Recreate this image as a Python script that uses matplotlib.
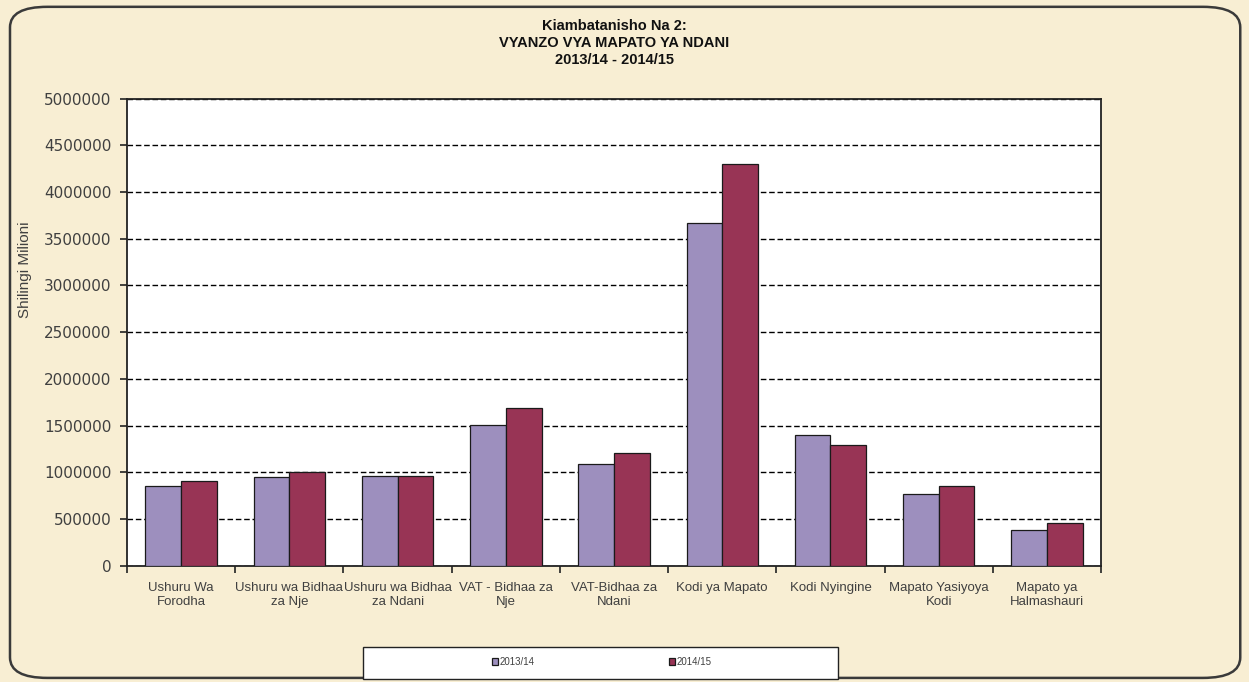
import numpy as np
import matplotlib.pyplot as plt
from matplotlib.patches import FancyBboxPatch, Rectangle

# Data
categories = ["Ushuru Wa\nForodha", "Ushuru wa Bidhaa\nza Nje", "Ushuru wa Bidhaa\nza Ndani",
              "VAT - Bidhaa za\nNje", "VAT-Bidhaa za\nNdani", "Kodi ya Mapato",
              "Kodi Nyingine", "Mapato Yasiyoya\nKodi", "Mapato ya\nHalmashauri"]
series_names = ["2013/14", "2014/15"]
values_1314 = [852000, 945000, 959000, 1505000, 1088000, 3663000, 1398000, 763000, 382000]
values_1415 = [909000, 1000000, 959000, 1690000, 1202000, 4300000, 1291000, 856000, 453000]
yticks = [0, 500000, 1000000, 1500000, 2000000, 2500000, 3000000, 3500000, 4000000, 4500000, 5000000]

plt.rcParams['font.family'] = ['Liberation Sans Narrow', 'Liberation Sans', 'DejaVu Sans']

bg = '#f8eed3'
fig = plt.figure(figsize=(12.49, 6.82), dpi=100, facecolor=bg)

# rounded frame around the chart
frame = FancyBboxPatch((0.008, 0.006), 0.985, 0.984, boxstyle="round,pad=0,rounding_size=0.03",
                       transform=fig.transFigure, facecolor=bg, edgecolor='#3a3a3a', linewidth=1.8,
                       zorder=-5)
fig.patches.append(frame)

ax = fig.add_axes([0.1017, 0.1705, 0.7798, 0.685])
ax.set_facecolor('white')

x = np.arange(len(categories))
w = 0.33
ax.bar(x - w / 2, values_1314, w, color='#9d8fbe', edgecolor='#1a1a1a', linewidth=0.9,
       label=series_names[0], zorder=3)
ax.bar(x + w / 2, values_1415, w, color='#983455', edgecolor='#1a1a1a', linewidth=0.9,
       label=series_names[1], zorder=3)

ax.set_xlim(-0.5, len(categories) - 0.5)
ax.set_ylim(0, 5000000)
ax.set_yticks(yticks)
ax.set_yticklabels([str(v) for v in yticks], fontsize=11, color='#404040', family='DejaVu Sans')
ax.yaxis.grid(True, linestyle=(0, (4, 2)), color='black', linewidth=1.0, zorder=1)

# ticks between categories, labels centred on categories
ax.set_xticks(np.arange(len(categories) + 1) - 0.5)
ax.set_xticklabels([])
ax.set_xticks(x, minor=True)
ax.set_xticklabels(categories, minor=True, fontsize=9.5, color='#404040')
ax.tick_params(axis='x', which='minor', length=0, pad=12)
ax.tick_params(axis='x', which='major', length=5, width=1.2, direction='out', color='#222222')
ax.tick_params(axis='y', length=5, width=1.2, direction='out', color='#222222', pad=6)

for s in ax.spines.values():
    s.set_color('#222222')
    s.set_linewidth(1.3)

fig.text(0.02, 0.605, "Shilingi Milioni", rotation=90, ha='center', va='center',
         fontsize=11, color='#404040')

fig.text(0.492, 0.972, "Kiambatanisho Na 2:\nVYANZO VYA MAPATO YA NDANI\n2013/14 - 2014/15",
         ha='center', va='top', fontsize=10.5, fontweight='bold', color='#111111', linespacing=1.25)

# legend: white box with the two entries inside
box = Rectangle((0.291, 0.005), 0.38, 0.046, transform=fig.transFigure, facecolor='white',
                edgecolor='#222222', linewidth=1.0, zorder=2)
fig.patches.append(box)
leg = fig.legend(loc='center', bbox_to_anchor=(0.482, 0.0295), ncol=2, fontsize=7,
                 frameon=False, handlelength=0.6, handleheight=0.6, handletextpad=0.2,
                 columnspacing=13.8)
leg.set_zorder(3)
for t in leg.get_texts():
    t.set_color('#404040')

fig.savefig('out.png', dpi=100, facecolor=bg)
